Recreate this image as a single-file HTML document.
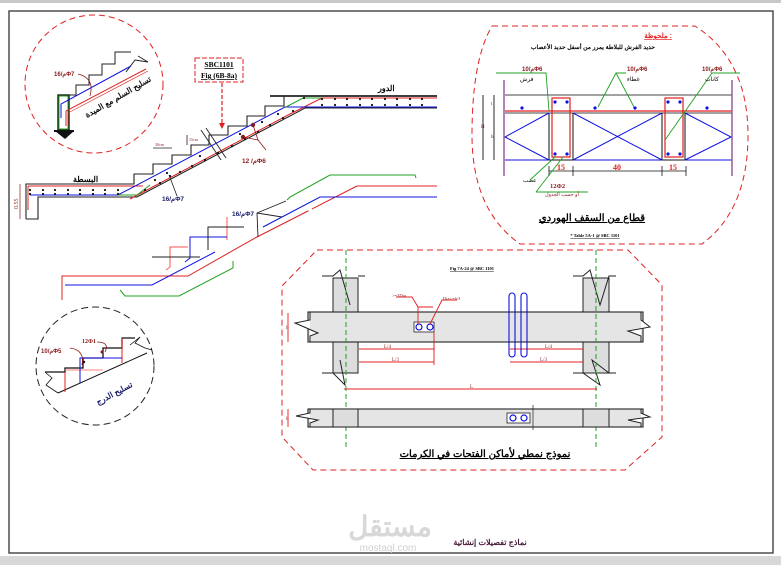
<!DOCTYPE html>
<html><head><meta charset="utf-8"><style>
html,body{margin:0;padding:0;background:#fff;}
svg{display:block;}
text{font-family:"Liberation Serif","Noto Sans CJK SC",serif;}
.ar{font-family:"Liberation Sans","Noto Sans CJK SC",sans-serif;}
</style></head><body>
<svg width="781" height="565" viewBox="0 0 781 565" xmlns="http://www.w3.org/2000/svg">
<rect x="0" y="0" width="781" height="565" fill="#fff"/>
<rect x="0" y="0" width="781" height="3" fill="#c8c8c8"/>
<rect x="0" y="556" width="781" height="9" fill="#d8d8d8"/>
<rect x="9" y="11" width="764" height="542" fill="none" stroke="#333" stroke-width="1.3"/>

<!-- top-left detail circle -->
<circle cx="94" cy="84" r="69" fill="none" stroke="#e02020" stroke-width="1" stroke-dasharray="6,4"/>
<polyline points="58,120 58,95 76,95 76,85 89,85 89,75 102,75 102,64 115,64 115,52 131,52" fill="none" stroke="#222" stroke-width="1"/>
<polyline points="126,72 135,60 148,62 138,56" fill="none" stroke="#222" stroke-width="1"/>
<rect x="58" y="95" width="11" height="35" fill="none" stroke="#1a1a1a" stroke-width="1.4"/>
<rect x="59" y="96" width="9" height="33" fill="none" stroke="#20a020" stroke-width="1"/>
<polyline points="61,118 61,104 131,66" fill="none" stroke="#1010e0" stroke-width="1"/>
<polyline points="66,126 66,111 146,69" fill="none" stroke="#e02020" stroke-width="1"/>
<polyline points="68,126 68,113 148,71" fill="none" stroke="#e02020" stroke-width="0.6"/>
<polygon points="55,131 74,131 65,139" fill="#111"/>
<rect x="54" y="130" width="20" height="2" fill="#111"/>
<text x="54" y="76" font-size="6" fill="#8b1a1a" font-weight="bold" class="ar">م/16Φ7</text>
<path d="M78,74 Q95,78 90,96" fill="none" stroke="#8b1a1a" stroke-width="0.8"/>
<text x="0" y="0" font-size="8" class="ar" font-weight="bold" fill="#111" transform="translate(87,118) rotate(-30)">تسليح السلم مع الميدة</text>

<!-- SBC box -->
<rect x="195" y="58" width="48" height="24" fill="none" stroke="#e02020" stroke-width="1" stroke-dasharray="5,2"/>
<text x="219" y="67" font-size="7.5" font-weight="bold" text-anchor="middle" text-decoration="underline">SBC1101</text>
<text x="219" y="78" font-size="7.5" font-weight="bold" text-anchor="middle" text-decoration="underline">Fig (6B-8a)</text>
<line x1="222" y1="83" x2="222" y2="124" stroke="#e02020" stroke-width="1.2" stroke-dasharray="4,2"/>
<polygon points="219,123 225,123 222,129" fill="#e02020"/>

<!-- main stair -->
<polyline points="26,219 26,184 134,184 134,174 153,174 153,164 172,164 172,155 191,155 191,145 209,145 209,135 228,135 228,126 247,126 247,116 265,116 265,106 284,106 284,96 437,96" fill="none" stroke="#222" stroke-width="1.1"/>
<polyline points="26,219 38,219 38,197 137,197 305,108 437,108" fill="none" stroke="#222" stroke-width="1.1"/>
<line x1="270" y1="96" x2="437" y2="96" stroke="#222" stroke-width="1.8"/>
<polyline points="28,186 143,186" fill="none" stroke="#e02020" stroke-width="1"/>
<polyline points="28,186 28,210" fill="none" stroke="#e02020" stroke-width="1"/>
<polyline points="130,199 290,114 322,98 437,98" fill="none" stroke="#e02020" stroke-width="1"/>
<polyline points="30,195 118,195 285,107 437,107" fill="none" stroke="#1010e0" stroke-width="1"/>
<polyline points="118,195 137,195 150,185" fill="none" stroke="#20a020" stroke-width="1"/>
<polyline points="286,107 303,98 322,98" fill="none" stroke="#20a020" stroke-width="1"/>
<g fill="#111">
<circle cx="30" cy="190" r="1.1"/><circle cx="43" cy="190" r="1.1"/><circle cx="55" cy="190" r="1.1"/><circle cx="68" cy="190" r="1.1"/><circle cx="80" cy="190" r="1.1"/><circle cx="93" cy="190" r="1.1"/><circle cx="105" cy="190" r="1.1"/><circle cx="118" cy="190" r="1.1"/>
<circle cx="30" cy="194" r="1.1"/><circle cx="43" cy="194" r="1.1"/><circle cx="55" cy="194" r="1.1"/><circle cx="68" cy="194" r="1.1"/><circle cx="80" cy="194" r="1.1"/><circle cx="93" cy="194" r="1.1"/><circle cx="105" cy="194" r="1.1"/><circle cx="118" cy="194" r="1.1"/>
<circle cx="145" cy="190" r="1.1"/><circle cx="160" cy="183" r="1.1"/><circle cx="170" cy="176" r="1.1"/><circle cx="180" cy="172" r="1.1"/><circle cx="192" cy="166" r="1.1"/><circle cx="205" cy="160" r="1.1"/><circle cx="218" cy="153" r="1.1"/><circle cx="232" cy="146" r="1.1"/><circle cx="245" cy="139" r="1.1"/><circle cx="258" cy="132" r="1.1"/><circle cx="270" cy="125" r="1.1"/><circle cx="283" cy="118" r="1.1"/><circle cx="293" cy="111" r="1.1"/>
<circle cx="155" cy="180" r="1.1"/><circle cx="167" cy="173" r="1.1"/><circle cx="200" cy="156" r="1.1"/><circle cx="240" cy="134" r="1.1"/><circle cx="262" cy="122" r="1.1"/><circle cx="278" cy="114" r="1.1"/>
<circle cx="304" cy="98" r="1.1"/><circle cx="322" cy="99" r="1.1"/><circle cx="335" cy="99" r="1.1"/><circle cx="347" cy="99" r="1.1"/><circle cx="360" cy="99" r="1.1"/><circle cx="372" cy="99" r="1.1"/><circle cx="385" cy="99" r="1.1"/><circle cx="397" cy="99" r="1.1"/><circle cx="410" cy="99" r="1.1"/><circle cx="422" cy="99" r="1.1"/>
<circle cx="322" cy="105" r="1.1"/><circle cx="335" cy="105" r="1.1"/><circle cx="347" cy="105" r="1.1"/><circle cx="360" cy="105" r="1.1"/><circle cx="372" cy="105" r="1.1"/><circle cx="385" cy="105" r="1.1"/><circle cx="397" cy="105" r="1.1"/><circle cx="410" cy="105" r="1.1"/><circle cx="422" cy="105" r="1.1"/>
</g>
<circle cx="253" cy="125" r="2.2" fill="#8b1a1a"/><circle cx="243" cy="137" r="2.2" fill="#8b1a1a"/>
<polyline points="253,125 258,140 266,150" fill="none" stroke="#8b1a1a" stroke-width="0.8"/>
<polyline points="243,137 258,140" fill="none" stroke="#8b1a1a" stroke-width="0.8"/>
<text x="242" y="163" font-size="6.5" fill="#8b1a1a" font-weight="bold" class="ar">م/  12Φ6</text>
<line x1="201" y1="130" x2="221" y2="160" stroke="#222" stroke-width="0.9"/>
<line x1="206" y1="128" x2="226" y2="158" stroke="#222" stroke-width="0.9"/>
<line x1="153" y1="148" x2="172" y2="148" stroke="#222" stroke-width="0.8"/>
<text x="155" y="146" font-size="4" fill="#8b1a1a">30cm</text>
<line x1="187" y1="135" x2="187" y2="145" stroke="#222" stroke-width="0.8"/>
<text x="189" y="141" font-size="4" fill="#8b1a1a">15cm</text>
<polyline points="169,175 177,196" fill="none" stroke="#222" stroke-width="0.8"/>
<text x="162" y="201" font-size="6.5" fill="#1a1a6b" font-weight="bold" class="ar">م/16Φ7</text>
<text x="73" y="182" font-size="8" font-weight="bold" class="ar">البسطة</text>
<text x="378" y="91" font-size="8" font-weight="bold" class="ar">الدور</text>
<text x="0" y="0" font-size="6" fill="#8b1a1a" transform="translate(18,209) rotate(-90)">0.55</text>
<line x1="20" y1="184" x2="20" y2="219" stroke="#8b1a1a" stroke-width="0.7"/>

<!-- lower stair detail -->
<polyline points="62,300 62,276 188,276 255,238" fill="none" stroke="#e02020" stroke-width="1"/>
<polyline points="357,186 437,186" fill="none" stroke="#e02020" stroke-width="1"/>
<polyline points="255,238 357,186" fill="none" stroke="#e02020" stroke-width="1" stroke-dasharray="60,4"/>
<polyline points="65,285 152,285 215,252" fill="none" stroke="#1010e0" stroke-width="1"/>
<polyline points="263,227 320,197 437,197" fill="none" stroke="#1010e0" stroke-width="1"/>
<polyline points="120,290 125,296 179,296 233,268 233,261" fill="none" stroke="#20a020" stroke-width="1"/>
<polyline points="287,200 290,197 330,175 415,175 416,178" fill="none" stroke="#20a020" stroke-width="1"/>
<polyline points="166,270 170,267 170,247 188,247" fill="none" stroke="#ff5050" stroke-width="1"/>
<polyline points="227,217 227,240" fill="none" stroke="#ff5050" stroke-width="1"/>
<polyline points="185,262 190,258 190,237 227,237" fill="none" stroke="#1010e0" stroke-width="1"/>
<polyline points="152,257 200,257" fill="none" stroke="#222" stroke-width="1"/>
<polyline points="208,250 208,227 244,227" fill="none" stroke="#222" stroke-width="1"/>
<polyline points="258,237 257,213 286,201" fill="none" stroke="#222" stroke-width="0.9"/>
<polyline points="257,213 282,217" fill="none" stroke="#222" stroke-width="0.9"/>
<text x="232" y="216" font-size="6.5" fill="#1a1a6b" font-weight="bold" class="ar">م/16Φ7</text>

<!-- bottom-left circle -->
<circle cx="95" cy="366" r="59" fill="none" stroke="#222" stroke-width="1" stroke-dasharray="7,4"/>
<polyline points="45,372 65,372 65,368 83,368 83,358 103,358 103,348 122,348 122,338 135,338" fill="none" stroke="#111" stroke-width="1.3"/>
<polyline points="130,345 140,337 135,343 145,348 152,350" fill="none" stroke="#111" stroke-width="0.8"/>
<polyline points="45,372 52,378 46,385 58,393" fill="none" stroke="#111" stroke-width="0.8"/>
<line x1="58" y1="393" x2="147" y2="353" stroke="#111" stroke-width="1"/>
<polyline points="65,372 65,392" stroke="#e02020" fill="none"/>
<polyline points="65,370 103,370" stroke="#ff8080" fill="none"/>
<polyline points="122,338 122,363" stroke="#e02020" fill="none"/>
<polyline points="80,383 80,358 122,358" stroke="#1010e0" fill="none"/>
<circle cx="84" cy="362" r="1.2" fill="#111"/><circle cx="102" cy="352" r="1.5" fill="#8b1a1a"/>
<text x="41" y="353" font-size="6" fill="#8b1a1a" font-weight="bold" class="ar">م/10Φ5</text>
<path d="M70,348 Q85,350 82,365" fill="none" stroke="#8b1a1a" stroke-width="0.8"/>
<text x="82" y="343" font-size="6" fill="#8b1a1a" font-weight="bold">12Φ1</text>
<path d="M97,342 Q110,342 105,352" fill="none" stroke="#8b1a1a" stroke-width="0.8"/>
<text x="0" y="0" font-size="8" fill="#1a1a6b" font-weight="bold" class="ar" transform="translate(98,405) rotate(-28)">تسليح الدرج</text>

<!-- hourdi section -->
<path d="M492,26 L695,26 Q748,60 748,135 Q748,210 702,244 L520,244 Q472,210 472,135 Q472,60 492,26 Z" fill="none" stroke="#e02020" stroke-width="1" stroke-dasharray="6,4"/>
<text x="672" y="38" font-size="7" fill="#e02020" font-weight="bold" class="ar" text-anchor="end" text-decoration="underline">ملحوظة :</text>
<text x="655" y="49" font-size="6" font-weight="bold" class="ar" text-anchor="end">حديد الفرش للبلاطة يمرر من أسفل حديد الأعصاب</text>
<line x1="505" y1="95" x2="732" y2="95" stroke="#444" stroke-width="1"/>
<line x1="505" y1="113" x2="732" y2="113" stroke="#444" stroke-width="1"/>
<line x1="505" y1="111" x2="732" y2="111" stroke="#e02020" stroke-width="1.2"/>
<line x1="505" y1="160" x2="732" y2="160" stroke="#1010e0" stroke-width="1"/>
<line x1="504" y1="80" x2="504" y2="176" stroke="#9a5aa0" stroke-width="1.5"/>
<line x1="732" y1="80" x2="732" y2="176" stroke="#9a5aa0" stroke-width="1.5"/>
<polyline points="549,113 549,160 573,160 573,113" fill="none" stroke="#111" stroke-width="1"/>
<polyline points="662,113 662,160 685,160 685,113" fill="none" stroke="#111" stroke-width="1"/>
<rect x="552" y="98" width="18" height="59" fill="none" stroke="#e02020" stroke-width="1.2"/>
<rect x="665" y="98" width="18" height="59" fill="none" stroke="#e02020" stroke-width="1.2"/>
<g stroke="#1010e0" stroke-width="1" fill="none">
<polyline points="549,113 505,137 549,160"/>
<line x1="573" y1="113" x2="662" y2="160"/><line x1="662" y1="113" x2="573" y2="160"/>
<polyline points="685,113 731,137 685,160"/>
</g>
<g fill="#1010e0">
<circle cx="555" cy="102" r="1.6"/><circle cx="567" cy="102" r="1.6"/><circle cx="555" cy="154" r="1.6"/><circle cx="567" cy="154" r="1.6"/>
<circle cx="668" cy="102" r="1.6"/><circle cx="680" cy="102" r="1.6"/><circle cx="668" cy="154" r="1.6"/><circle cx="680" cy="154" r="1.6"/>
<circle cx="522" cy="108" r="1.6"/><circle cx="595" cy="108" r="1.6"/><circle cx="635" cy="108" r="1.6"/><circle cx="707" cy="108" r="1.6"/>
</g>
<line x1="483" y1="95" x2="483" y2="160" stroke="#111" stroke-width="0.9"/>
<line x1="494" y1="95" x2="494" y2="160" stroke="#111" stroke-width="0.9"/>
<text x="481" y="128" font-size="5" fill="#8b1a1a">H</text>
<text x="491" y="105" font-size="5" fill="#8b1a1a">t</text>
<text x="491" y="138" font-size="5" fill="#8b1a1a">h</text>
<line x1="549" y1="171" x2="686" y2="171" stroke="#111" stroke-width="0.8"/>
<g stroke="#111" stroke-width="0.8"><line x1="549" y1="166" x2="549" y2="176"/><line x1="573" y1="166" x2="573" y2="176"/><line x1="662" y1="166" x2="662" y2="176"/><line x1="686" y1="166" x2="686" y2="176"/></g>
<text x="561" y="170" font-size="8" fill="#e02020" font-weight="bold" text-anchor="middle">15</text>
<text x="617" y="170" font-size="8" fill="#e02020" font-weight="bold" text-anchor="middle">40</text>
<text x="673" y="170" font-size="8" fill="#e02020" font-weight="bold" text-anchor="middle">15</text>
<g stroke="#20a020" stroke-width="0.9" fill="none">
<polyline points="496,73 546,73 549,111"/>
<polyline points="626,73 616,73 598,107"/><line x1="616" y1="73" x2="634" y2="107"/>
<polyline points="740,73 712,73 665,140"/>
<polyline points="536,192 588,192"/><polyline points="536,192 563,157"/><polyline points="530,180 555,157"/>
</g>
<text x="522" y="71" font-size="6" fill="#8b1a1a" font-weight="bold" class="ar">م/10Φ6</text>
<text x="520" y="81" font-size="6" class="ar">فرش</text>
<text x="627" y="71" font-size="6" fill="#8b1a1a" font-weight="bold" class="ar">م/10Φ6</text>
<text x="627" y="81" font-size="6" class="ar">غطاء</text>
<text x="702" y="71" font-size="6" fill="#8b1a1a" font-weight="bold" class="ar">م/10Φ6</text>
<text x="705" y="81" font-size="6" class="ar">كانات</text>
<text x="523" y="182" font-size="5.5" class="ar">عصب</text>
<text x="550" y="188" font-size="6.5" fill="#8b1a1a" font-weight="bold">12Φ2</text>
<text x="545" y="196" font-size="5" fill="#8b1a1a" class="ar">أو حسب الجدول</text>
<text x="592" y="221" font-size="10" font-weight="bold" class="ar" text-anchor="middle" text-decoration="underline">قطاع من السقف الهوردي</text>
<text x="595" y="237" font-size="4.5" font-weight="bold" text-anchor="middle" text-decoration="underline">* Table 5A-1 @ SBC 1101</text>

<!-- beam openings -->
<path d="M317,250 L628,250 L662,285 L662,437 L625,470 L313,470 L282,437 L282,286 Z" fill="none" stroke="#e02020" stroke-width="1" stroke-dasharray="6,4"/>
<text x="472" y="270" font-size="4.5" font-weight="bold" text-anchor="middle" text-decoration="underline">Fig 7A-24  @  SBC 1101</text>
<g fill="#ddd" stroke="#222" stroke-width="1">
<rect x="333" y="278" width="25" height="34"/><rect x="333" y="342" width="25" height="31"/>
<rect x="583" y="278" width="26" height="34"/><rect x="583" y="342" width="26" height="31"/>
</g>
<rect x="308" y="312" width="335" height="30" fill="#e5e5e5" stroke="#222" stroke-width="1.1"/>
<polyline points="310,312 310,320 295,323 318,333 310,336 310,342" fill="#fff" stroke="#222" stroke-width="1"/>
<polyline points="641,312 641,320 650,327 628,331 641,336 641,342" fill="#fff" stroke="#222" stroke-width="1"/>
<polyline points="322,276 333,276 340,270 350,305" fill="none" stroke="#222" stroke-width="1"/>
<polyline points="358,276 365,276" fill="none" stroke="#222" stroke-width="1"/>
<polyline points="322,373 333,373 345,385 340,360" fill="none" stroke="#222" stroke-width="1"/>
<polyline points="573,276 583,276 590,270 600,305 609,276 616,276" fill="none" stroke="#222" stroke-width="1"/>
<polyline points="573,373 583,373 600,385 592,360 609,373 616,373" fill="none" stroke="#222" stroke-width="1"/>
<line x1="346" y1="250" x2="346" y2="448" stroke="#20a020" stroke-width="1" stroke-dasharray="5,3"/>
<line x1="596" y1="250" x2="596" y2="448" stroke="#20a020" stroke-width="1" stroke-dasharray="5,3"/>
<rect x="414" y="322" width="20" height="10" fill="#fff" stroke="#222" stroke-width="0.8"/>
<circle cx="419" cy="327" r="3" fill="#fff" stroke="#1010e0" stroke-width="1.2"/>
<circle cx="430" cy="327" r="3" fill="#fff" stroke="#1010e0" stroke-width="1.2"/>
<g stroke="#e02020" stroke-width="0.9" fill="none">
<polyline points="396,297 412,297 418,307 433,307"/><line x1="418" y1="307" x2="418" y2="324"/>
<polyline points="457,300 442,300 430,324"/>
<line x1="359" y1="349" x2="434" y2="349"/><line x1="434" y1="342" x2="434" y2="352"/>
<line x1="359" y1="362" x2="434" y2="362"/><line x1="434" y1="332" x2="434" y2="365"/>
<line x1="510" y1="349" x2="583" y2="349"/><line x1="510" y1="362" x2="583" y2="362"/>
<line x1="344" y1="389" x2="597" y2="389"/>
<line x1="288" y1="313" x2="288" y2="342"/><line x1="288" y1="409" x2="288" y2="427"/>
</g>
<text x="392" y="297" font-size="4.5" fill="#8b1a1a">&gt;=3Dia</text>
<text x="443" y="300" font-size="4.5" fill="#8b1a1a">Dia&lt;=h/3</text>
<text x="384" y="348" font-size="5" fill="#8b1a1a">L/4</text>
<text x="392" y="361" font-size="5" fill="#8b1a1a">L/3</text>
<text x="545" y="348" font-size="5" fill="#8b1a1a">L/4</text>
<text x="540" y="361" font-size="5" fill="#8b1a1a">L/3</text>
<text x="470" y="388" font-size="5" fill="#8b1a1a">L</text>
<text x="286" y="329" font-size="5" fill="#8b1a1a">h</text>
<text x="286" y="420" font-size="5" fill="#8b1a1a">h</text>
<g fill="none" stroke="#1010e0" stroke-width="1.1">
<rect x="509" y="293" width="6" height="64" rx="3"/><rect x="521" y="293" width="6" height="64" rx="3"/>
</g>
<!-- lower beam -->
<rect x="308" y="409" width="335" height="18" fill="#e5e5e5" stroke="#222" stroke-width="1.1"/>
<rect x="333" y="409" width="25" height="18" fill="#ddd" stroke="#222" stroke-width="1"/>
<rect x="583" y="409" width="26" height="18" fill="#ddd" stroke="#222" stroke-width="1"/>
<polyline points="310,409 310,413 296,416 318,420 310,423 310,427" fill="#fff" stroke="#222" stroke-width="1"/>
<polyline points="641,409 641,413 650,417 628,420 641,423 641,427" fill="#fff" stroke="#222" stroke-width="1"/>
<rect x="507" y="413" width="23" height="10" fill="#fff" stroke="#222" stroke-width="0.8"/>
<circle cx="513" cy="418" r="3" fill="#fff" stroke="#1010e0" stroke-width="1.2"/>
<circle cx="524" cy="418" r="3" fill="#fff" stroke="#1010e0" stroke-width="1.2"/>
<line x1="533" y1="405" x2="533" y2="430" stroke="#222" stroke-width="0.7"/>
<text x="485" y="457" font-size="10" font-weight="bold" class="ar" text-anchor="middle" text-decoration="underline">نموذج نمطي لأماكن الفتحات في الكرمات</text>

<!-- footer -->
<text x="390" y="536" font-size="28" fill="#d8d8d8" font-weight="bold" class="ar" text-anchor="middle">مستقل</text>
<text x="388" y="551" font-size="10" fill="#d0d0d0" class="ar" text-anchor="middle">mostaql.com</text>
<text x="490" y="545" font-size="8" fill="#4a1a3a" font-weight="bold" class="ar" text-anchor="middle">نماذج تفصيلات إنشائية</text>
</svg>
</body></html>
